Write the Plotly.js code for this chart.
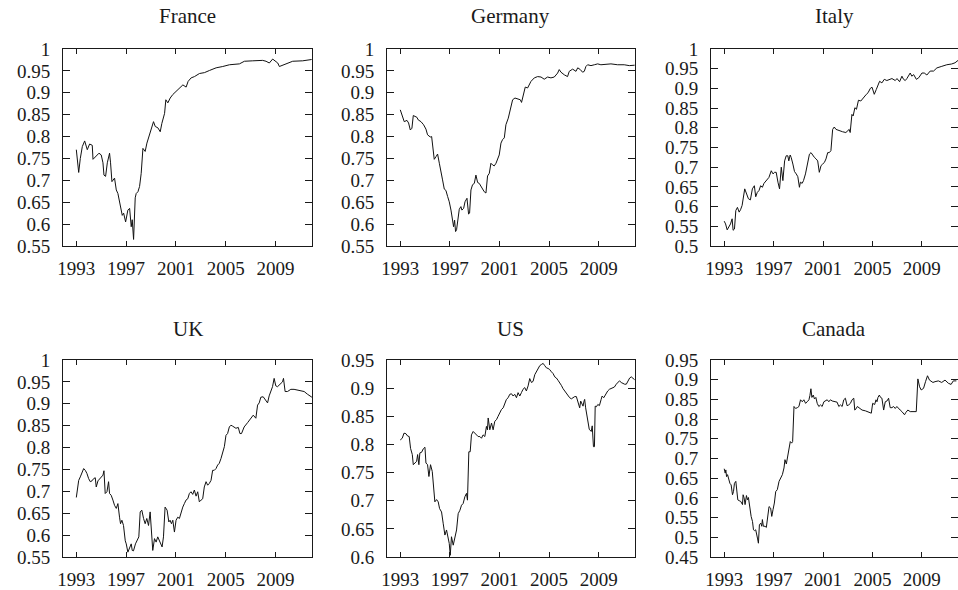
<!DOCTYPE html>
<html>
<head>
<meta charset="utf-8">
<script src="https://cdn.plot.ly/plotly-3.0.1.min.js"></script>
<style>
  html, body { margin: 0; padding: 0; background: #fff; }
  #chart { width: 958px; height: 590px; }
</style>
</head>
<body>
<div id="chart"></div>
<script>
// Panel titles and x-axis tick labels
const countries = ["France", "Germany", "Italy", "UK", "US", "Canada"];
const yearTicks = [1993, 1997, 2001, 2005, 2009];

// France
const franceYear = [1993.0, 1993.19, 1993.32, 1993.48, 1993.67, 1993.88, 1994.07, 1994.28, 1994.34, 1994.6, 1994.82, 1995.0, 1995.14, 1995.22, 1995.35, 1995.49, 1995.67, 1995.75, 1995.86, 1996.07, 1996.21, 1996.34, 1996.53, 1996.69, 1996.8, 1996.96, 1997.14, 1997.28, 1997.41, 1997.49, 1997.6, 1997.73, 1997.81, 1997.95, 1998.08, 1998.21, 1998.35, 1998.53, 1998.67, 1998.83, 1998.94, 1999.2, 1999.34, 1999.55, 1999.74, 1999.87, 2000.09, 2000.19, 2000.35, 2000.54, 2000.75, 2001.02, 2001.29, 2001.56, 2001.82, 2001.98, 2002.22, 2002.49, 2002.89, 2003.29, 2003.7, 2004.23, 2004.76, 2005.3, 2006.1, 2006.5, 2007.17, 2007.97, 2008.24, 2008.5, 2008.77, 2009.18, 2009.31, 2009.84, 2010.38, 2011.18, 2011.72, 2011.9];
const franceValue = [0.77, 0.718, 0.75, 0.777, 0.79, 0.77, 0.783, 0.78, 0.748, 0.756, 0.762, 0.758, 0.74, 0.712, 0.709, 0.74, 0.762, 0.74, 0.697, 0.705, 0.678, 0.67, 0.644, 0.62, 0.625, 0.605, 0.632, 0.636, 0.594, 0.61, 0.565, 0.66, 0.67, 0.674, 0.686, 0.716, 0.773, 0.766, 0.785, 0.8, 0.808, 0.834, 0.823, 0.82, 0.811, 0.83, 0.853, 0.884, 0.877, 0.888, 0.896, 0.903, 0.911, 0.918, 0.913, 0.926, 0.934, 0.937, 0.944, 0.946, 0.951, 0.957, 0.96, 0.964, 0.966, 0.972, 0.973, 0.974, 0.972, 0.968, 0.977, 0.968, 0.96, 0.966, 0.972, 0.973, 0.976, 0.976];

// Germany
const germanyYear = [1993.0, 1993.19, 1993.32, 1993.54, 1993.67, 1993.81, 1993.94, 1994.05, 1994.18, 1994.34, 1994.45, 1994.67, 1994.88, 1995.07, 1995.2, 1995.42, 1995.53, 1995.63, 1995.74, 1995.88, 1996.01, 1996.15, 1996.28, 1996.41, 1996.55, 1996.68, 1996.82, 1996.95, 1997.09, 1997.22, 1997.3, 1997.38, 1997.46, 1997.54, 1997.62, 1997.76, 1997.89, 1997.97, 1998.11, 1998.22, 1998.38, 1998.51, 1998.59, 1998.7, 1998.83, 1998.97, 1999.1, 1999.24, 1999.37, 1999.51, 1999.64, 1999.77, 1999.91, 1999.96, 2000.04, 2000.18, 2000.31, 2000.45, 2000.58, 2000.72, 2000.85, 2000.98, 2001.12, 2001.25, 2001.39, 2001.52, 2001.71, 2001.87, 2002.06, 2002.25, 2002.46, 2002.68, 2002.78, 2002.95, 2003.08, 2003.27, 2003.4, 2003.54, 2003.81, 2004.08, 2004.35, 2004.61, 2004.88, 2005.15, 2005.42, 2005.69, 2005.82, 2005.96, 2006.23, 2006.49, 2006.63, 2006.9, 2007.17, 2007.31, 2007.52, 2007.7, 2007.84, 2007.97, 2008.11, 2008.38, 2008.65, 2008.92, 2009.18, 2009.45, 2009.99, 2010.53, 2011.06, 2011.47, 2011.9];
const germanyValue = [0.861, 0.846, 0.834, 0.837, 0.831, 0.815, 0.819, 0.848, 0.847, 0.844, 0.838, 0.834, 0.827, 0.817, 0.804, 0.799, 0.8, 0.77, 0.748, 0.754, 0.76, 0.739, 0.716, 0.701, 0.68, 0.677, 0.663, 0.651, 0.632, 0.606, 0.594, 0.609, 0.583, 0.587, 0.609, 0.634, 0.64, 0.632, 0.636, 0.651, 0.659, 0.623, 0.625, 0.678, 0.69, 0.693, 0.712, 0.695, 0.693, 0.686, 0.682, 0.674, 0.671, 0.686, 0.71, 0.716, 0.739, 0.735, 0.733, 0.739, 0.747, 0.758, 0.785, 0.793, 0.797, 0.827, 0.842, 0.861, 0.884, 0.888, 0.886, 0.884, 0.878, 0.901, 0.913, 0.911, 0.918, 0.926, 0.934, 0.937, 0.936, 0.931, 0.936, 0.934, 0.936, 0.945, 0.953, 0.947, 0.941, 0.937, 0.949, 0.954, 0.949, 0.957, 0.953, 0.947, 0.949, 0.96, 0.964, 0.962, 0.964, 0.966, 0.964, 0.965, 0.966, 0.964, 0.964, 0.962, 0.963];

// Italy
const italyYear = [1993.0, 1993.11, 1993.24, 1993.38, 1993.51, 1993.64, 1993.72, 1993.83, 1993.94, 1994.07, 1994.21, 1994.32, 1994.45, 1994.66, 1994.8, 1994.96, 1995.12, 1995.28, 1995.44, 1995.55, 1995.68, 1995.82, 1995.95, 1996.09, 1996.22, 1996.41, 1996.62, 1996.81, 1996.95, 1997.08, 1997.21, 1997.35, 1997.48, 1997.62, 1997.75, 1997.89, 1998.02, 1998.15, 1998.23, 1998.34, 1998.42, 1998.56, 1998.69, 1998.83, 1998.96, 1999.09, 1999.17, 1999.31, 1999.42, 1999.58, 1999.77, 1999.9, 2000.03, 2000.17, 2000.3, 2000.44, 2000.57, 2000.7, 2000.84, 2000.97, 2001.11, 2001.24, 2001.38, 2001.51, 2001.64, 2001.78, 2001.91, 2002.05, 2002.32, 2002.58, 2002.85, 2002.99, 2003.12, 2003.2, 2003.34, 2003.44, 2003.58, 2003.71, 2003.87, 2004.06, 2004.24, 2004.38, 2004.51, 2004.65, 2004.83, 2004.97, 2005.05, 2005.15, 2005.31, 2005.42, 2005.58, 2005.77, 2005.96, 2006.17, 2006.39, 2006.58, 2006.85, 2006.99, 2007.2, 2007.39, 2007.52, 2007.66, 2007.79, 2008.06, 2008.19, 2008.34, 2008.56, 2008.75, 2009.01, 2009.2, 2009.41, 2009.68, 2009.95, 2010.22, 2010.62, 2011.02, 2011.42, 2011.69, 2011.93];
const italyValue = [0.563, 0.556, 0.541, 0.548, 0.556, 0.569, 0.54, 0.543, 0.59, 0.598, 0.586, 0.592, 0.603, 0.645, 0.632, 0.62, 0.617, 0.645, 0.653, 0.625, 0.636, 0.641, 0.653, 0.649, 0.659, 0.666, 0.674, 0.691, 0.683, 0.687, 0.687, 0.662, 0.645, 0.7, 0.666, 0.716, 0.729, 0.729, 0.716, 0.731, 0.725, 0.708, 0.689, 0.683, 0.676, 0.649, 0.662, 0.659, 0.666, 0.683, 0.716, 0.733, 0.737, 0.729, 0.725, 0.721, 0.716, 0.687, 0.704, 0.708, 0.712, 0.721, 0.737, 0.737, 0.742, 0.796, 0.802, 0.796, 0.792, 0.79, 0.788, 0.792, 0.796, 0.788, 0.834, 0.83, 0.851, 0.847, 0.87, 0.868, 0.876, 0.88, 0.885, 0.889, 0.9, 0.903, 0.893, 0.885, 0.897, 0.906, 0.918, 0.914, 0.923, 0.92, 0.923, 0.925, 0.92, 0.925, 0.917, 0.931, 0.923, 0.92, 0.925, 0.939, 0.931, 0.935, 0.923, 0.927, 0.939, 0.939, 0.934, 0.944, 0.944, 0.952, 0.956, 0.96, 0.962, 0.965, 0.971];

// UK
const ukYear = [1993.0, 1993.08, 1993.19, 1993.32, 1993.45, 1993.59, 1993.72, 1993.85, 1993.99, 1994.12, 1994.26, 1994.39, 1994.52, 1994.6, 1994.74, 1994.87, 1995.0, 1995.14, 1995.22, 1995.32, 1995.46, 1995.59, 1995.67, 1995.8, 1995.94, 1996.07, 1996.21, 1996.34, 1996.47, 1996.55, 1996.66, 1996.79, 1996.93, 1997.01, 1997.14, 1997.27, 1997.41, 1997.49, 1997.59, 1997.75, 1997.89, 1998.02, 1998.13, 1998.26, 1998.4, 1998.53, 1998.66, 1998.8, 1998.93, 1999.01, 1999.14, 1999.28, 1999.41, 1999.54, 1999.68, 1999.81, 1999.89, 2000.0, 2000.13, 2000.29, 2000.43, 2000.53, 2000.64, 2000.75, 2000.88, 2001.01, 2001.15, 2001.28, 2001.41, 2001.55, 2001.68, 2001.81, 2001.95, 2002.08, 2002.21, 2002.35, 2002.48, 2002.62, 2002.75, 2002.88, 2003.02, 2003.15, 2003.28, 2003.42, 2003.55, 2003.68, 2003.82, 2003.95, 2004.08, 2004.22, 2004.35, 2004.48, 2004.62, 2004.75, 2004.89, 2005.02, 2005.15, 2005.29, 2005.42, 2005.55, 2005.69, 2005.82, 2006.01, 2006.14, 2006.27, 2006.48, 2006.76, 2007.02, 2007.21, 2007.42, 2007.56, 2007.69, 2007.82, 2008.01, 2008.22, 2008.36, 2008.49, 2008.62, 2008.76, 2008.89, 2009.02, 2009.16, 2009.29, 2009.43, 2009.56, 2009.64, 2009.77, 2009.96, 2010.23, 2010.49, 2010.9, 2011.3, 2011.56, 2011.83, 2011.92];
const ukValue = [0.686, 0.703, 0.725, 0.733, 0.744, 0.752, 0.748, 0.741, 0.729, 0.722, 0.724, 0.729, 0.731, 0.71, 0.724, 0.729, 0.733, 0.737, 0.747, 0.695, 0.699, 0.722, 0.695, 0.691, 0.68, 0.668, 0.661, 0.672, 0.641, 0.626, 0.634, 0.622, 0.587, 0.58, 0.561, 0.569, 0.58, 0.565, 0.564, 0.58, 0.588, 0.596, 0.653, 0.657, 0.638, 0.626, 0.638, 0.622, 0.653, 0.626, 0.565, 0.592, 0.584, 0.596, 0.588, 0.577, 0.573, 0.596, 0.664, 0.657, 0.63, 0.634, 0.626, 0.634, 0.607, 0.634, 0.641, 0.638, 0.653, 0.664, 0.672, 0.68, 0.683, 0.695, 0.699, 0.693, 0.703, 0.689, 0.699, 0.676, 0.68, 0.683, 0.71, 0.722, 0.714, 0.718, 0.725, 0.748, 0.748, 0.752, 0.76, 0.764, 0.775, 0.786, 0.802, 0.828, 0.832, 0.847, 0.851, 0.849, 0.847, 0.844, 0.846, 0.832, 0.832, 0.847, 0.857, 0.867, 0.874, 0.867, 0.897, 0.902, 0.915, 0.916, 0.907, 0.902, 0.918, 0.93, 0.939, 0.958, 0.941, 0.939, 0.943, 0.948, 0.95, 0.958, 0.928, 0.928, 0.933, 0.933, 0.931, 0.928, 0.922, 0.916, 0.915];

// US
const usYear = [1993.0, 1993.16, 1993.3, 1993.46, 1993.59, 1993.72, 1993.83, 1993.97, 1994.05, 1994.18, 1994.32, 1994.4, 1994.5, 1994.58, 1994.72, 1994.85, 1994.99, 1995.07, 1995.2, 1995.31, 1995.44, 1995.58, 1995.68, 1995.79, 1995.93, 1996.06, 1996.17, 1996.33, 1996.46, 1996.6, 1996.73, 1996.87, 1996.95, 1997.03, 1997.13, 1997.27, 1997.4, 1997.54, 1997.67, 1997.81, 1997.94, 1998.07, 1998.21, 1998.34, 1998.42, 1998.53, 1998.64, 1998.74, 1998.88, 1999.01, 1999.15, 1999.28, 1999.42, 1999.55, 1999.68, 1999.82, 1999.95, 2000.03, 2000.09, 2000.22, 2000.36, 2000.49, 2000.62, 2000.76, 2000.89, 2001.03, 2001.16, 2001.3, 2001.43, 2001.56, 2001.7, 2001.83, 2001.97, 2002.1, 2002.23, 2002.37, 2002.5, 2002.64, 2002.77, 2002.9, 2003.04, 2003.17, 2003.31, 2003.44, 2003.58, 2003.71, 2003.85, 2003.98, 2004.11, 2004.25, 2004.38, 2004.52, 2004.65, 2004.79, 2004.92, 2005.05, 2005.19, 2005.32, 2005.46, 2005.59, 2005.72, 2005.86, 2005.99, 2006.13, 2006.26, 2006.4, 2006.53, 2006.66, 2006.8, 2006.93, 2007.07, 2007.2, 2007.33, 2007.47, 2007.55, 2007.66, 2007.74, 2007.82, 2007.87, 2007.95, 2008.03, 2008.14, 2008.24, 2008.4, 2008.48, 2008.58, 2008.66, 2008.72, 2008.82, 2008.93, 2009.06, 2009.2, 2009.28, 2009.41, 2009.6, 2009.73, 2009.87, 2010.0, 2010.13, 2010.27, 2010.42, 2010.56, 2010.68, 2010.82, 2010.95, 2011.09, 2011.23, 2011.36, 2011.5, 2011.63, 2011.9];
const usValue = [0.808, 0.811, 0.82, 0.819, 0.815, 0.814, 0.793, 0.782, 0.764, 0.767, 0.77, 0.782, 0.764, 0.785, 0.786, 0.792, 0.795, 0.767, 0.764, 0.743, 0.764, 0.752, 0.719, 0.698, 0.702, 0.698, 0.686, 0.68, 0.66, 0.639, 0.648, 0.633, 0.624, 0.603, 0.636, 0.621, 0.636, 0.648, 0.677, 0.683, 0.692, 0.695, 0.707, 0.713, 0.701, 0.787, 0.787, 0.817, 0.823, 0.82, 0.817, 0.814, 0.814, 0.811, 0.817, 0.814, 0.832, 0.826, 0.847, 0.826, 0.838, 0.826, 0.841, 0.844, 0.85, 0.856, 0.862, 0.865, 0.874, 0.88, 0.883, 0.889, 0.89, 0.886, 0.889, 0.883, 0.892, 0.886, 0.892, 0.898, 0.901, 0.895, 0.904, 0.917, 0.91, 0.912, 0.924, 0.93, 0.936, 0.94, 0.942, 0.944, 0.94, 0.936, 0.935, 0.933, 0.929, 0.926, 0.92, 0.918, 0.914, 0.91, 0.905, 0.899, 0.895, 0.89, 0.886, 0.883, 0.881, 0.883, 0.885, 0.885, 0.874, 0.865, 0.877, 0.873, 0.868, 0.877, 0.88, 0.865, 0.856, 0.838, 0.827, 0.823, 0.833, 0.796, 0.796, 0.868, 0.867, 0.871, 0.869, 0.88, 0.886, 0.883, 0.892, 0.895, 0.898, 0.899, 0.901, 0.902, 0.907, 0.91, 0.913, 0.91, 0.908, 0.907, 0.907, 0.913, 0.918, 0.92, 0.915];

// Canada
const canadaYear = [1993.0, 1993.08, 1993.13, 1993.19, 1993.27, 1993.35, 1993.46, 1993.56, 1993.67, 1993.75, 1993.83, 1993.94, 1994.02, 1994.1, 1994.21, 1994.34, 1994.48, 1994.53, 1994.61, 1994.69, 1994.8, 1994.88, 1994.96, 1995.07, 1995.18, 1995.29, 1995.37, 1995.45, 1995.55, 1995.69, 1995.77, 1995.85, 1995.96, 1996.04, 1996.09, 1996.17, 1996.31, 1996.41, 1996.52, 1996.63, 1996.76, 1996.85, 1996.95, 1997.06, 1997.17, 1997.3, 1997.44, 1997.57, 1997.71, 1997.84, 1997.92, 1998.03, 1998.14, 1998.24, 1998.35, 1998.46, 1998.54, 1998.65, 1998.78, 1998.92, 1999.05, 1999.18, 1999.32, 1999.45, 1999.59, 1999.72, 1999.86, 1999.94, 2000.02, 2000.1, 2000.21, 2000.31, 2000.42, 2000.53, 2000.66, 2000.8, 2000.93, 2001.07, 2001.2, 2001.34, 2001.47, 2001.6, 2001.74, 2001.95, 2002.14, 2002.28, 2002.41, 2002.55, 2002.68, 2002.81, 2002.95, 2003.08, 2003.22, 2003.35, 2003.49, 2003.57, 2003.67, 2003.78, 2003.94, 2004.16, 2004.43, 2004.69, 2004.91, 2005.02, 2005.18, 2005.29, 2005.37, 2005.45, 2005.56, 2005.66, 2005.77, 2005.91, 2006.04, 2006.18, 2006.31, 2006.44, 2006.58, 2006.71, 2006.85, 2006.98, 2007.12, 2007.25, 2007.39, 2007.52, 2007.6, 2007.71, 2007.87, 2008.06, 2008.19, 2008.33, 2008.55, 2008.68, 2008.82, 2008.95, 2009.14, 2009.3, 2009.46, 2009.62, 2009.75, 2009.9, 2010.07, 2010.34, 2010.61, 2010.88, 2011.15, 2011.37, 2011.55, 2011.8, 2011.93];
const canadaValue = [0.674, 0.663, 0.671, 0.654, 0.659, 0.65, 0.637, 0.633, 0.608, 0.616, 0.637, 0.642, 0.616, 0.595, 0.593, 0.591, 0.583, 0.608, 0.6, 0.583, 0.606, 0.595, 0.601, 0.574, 0.553, 0.54, 0.519, 0.517, 0.519, 0.498, 0.485, 0.532, 0.536, 0.528, 0.545, 0.528, 0.528, 0.525, 0.549, 0.578, 0.574, 0.553, 0.57, 0.587, 0.616, 0.621, 0.642, 0.65, 0.659, 0.676, 0.697, 0.686, 0.705, 0.726, 0.743, 0.739, 0.743, 0.832, 0.827, 0.829, 0.832, 0.849, 0.844, 0.849, 0.84, 0.844, 0.849, 0.86, 0.877, 0.855, 0.861, 0.851, 0.855, 0.84, 0.832, 0.836, 0.832, 0.844, 0.846, 0.849, 0.844, 0.849, 0.846, 0.844, 0.843, 0.832, 0.836, 0.832, 0.849, 0.853, 0.834, 0.836, 0.84, 0.849, 0.853, 0.823, 0.826, 0.832, 0.829, 0.823, 0.821, 0.817, 0.815, 0.84, 0.837, 0.849, 0.844, 0.855, 0.861, 0.855, 0.853, 0.823, 0.844, 0.846, 0.853, 0.829, 0.829, 0.832, 0.827, 0.832, 0.826, 0.823, 0.819, 0.815, 0.811, 0.817, 0.823, 0.819, 0.819, 0.819, 0.819, 0.902, 0.882, 0.874, 0.878, 0.895, 0.91, 0.899, 0.895, 0.893, 0.895, 0.897, 0.893, 0.899, 0.891, 0.888, 0.897, 0.897];

const seriesYears = [franceYear, germanyYear, italyYear, ukYear, usYear, canadaYear];
const seriesValues = [franceValue, germanyValue, italyValue, ukValue, usValue, canadaValue];

// Value-axis extent per panel: [min, max]
const valueRanges = [[0.55, 1], [0.55, 1], [0.5, 1], [0.55, 1], [0.6, 0.95], [0.45, 0.95]];

// Panel placement in pixels: column left/right edges, row top/bottom edges
const W = 958, H = 590;
const colEdges = [[63, 312], [387, 635], [711, 958]];
const rowEdges = [[49, 246], [360, 557]];
const titleCenterY = [16.5, 329];

const serif = "Liberation Serif";
const ink = "#1a1a1a";

const traces = [];
const layout = {
  width: W,
  height: H,
  margin: { l: 0, r: 0, t: 0, b: 0 },
  paper_bgcolor: "#fff",
  plot_bgcolor: "#fff",
  showlegend: false,
  font: { family: serif, size: 19, color: ink },
  annotations: []
};

countries.forEach(function (name, i) {
  const row = Math.floor(i / 3), col = i % 3;
  const idx = i === 0 ? "" : String(i + 1);
  const xa = "xaxis" + idx, ya = "yaxis" + idx;

  traces.push({
    type: "scatter",
    mode: "lines",
    x: seriesYears[i],
    y: seriesValues[i],
    xaxis: "x" + idx,
    yaxis: "y" + idx,
    line: { color: "#111", width: 1 },
    hoverinfo: "skip"
  });

  const xd = [colEdges[col][0] / W, Math.min(1, colEdges[col][1] / W)];
  const yd = [1 - rowEdges[row][1] / H, 1 - rowEdges[row][0] / H];

  layout[xa] = {
    domain: xd,
    anchor: "y" + idx,
    range: [1991.93, 2011.93],
    tickmode: "array",
    tickvals: yearTicks,
    ticktext: yearTicks.map(String),
    ticks: "inside",
    ticklen: 5,
    tickwidth: 1,
    tickcolor: ink,
    showline: true,
    linecolor: ink,
    linewidth: 1,
    mirror: "ticks",
    showgrid: false,
    zeroline: false,
    ticklabelstandoff: 5,
    tickfont: { family: serif, size: 19, color: ink }
  };

  layout[ya] = {
    domain: yd,
    anchor: "x" + idx,
    range: valueRanges[i],
    tickmode: "linear",
    tick0: 0,
    dtick: 0.05,
    ticks: "inside",
    ticklen: 7,
    tickwidth: 1,
    tickcolor: ink,
    showline: true,
    linecolor: ink,
    linewidth: 1,
    mirror: "ticks",
    showgrid: false,
    zeroline: false,
    ticklabelstandoff: 8,
    tickfont: { family: serif, size: 19, color: ink }
  };

  layout.annotations.push({
    text: name,
    xref: "paper",
    yref: "paper",
    x: (xd[0] + xd[1]) / 2,
    y: 1 - titleCenterY[row] / H,
    xanchor: "center",
    yanchor: "middle",
    showarrow: false,
    font: { family: serif, size: 21, color: ink }
  });
});

Plotly.newPlot("chart", traces, layout, { staticPlot: true, displayModeBar: false });
</script>
</body>
</html>
